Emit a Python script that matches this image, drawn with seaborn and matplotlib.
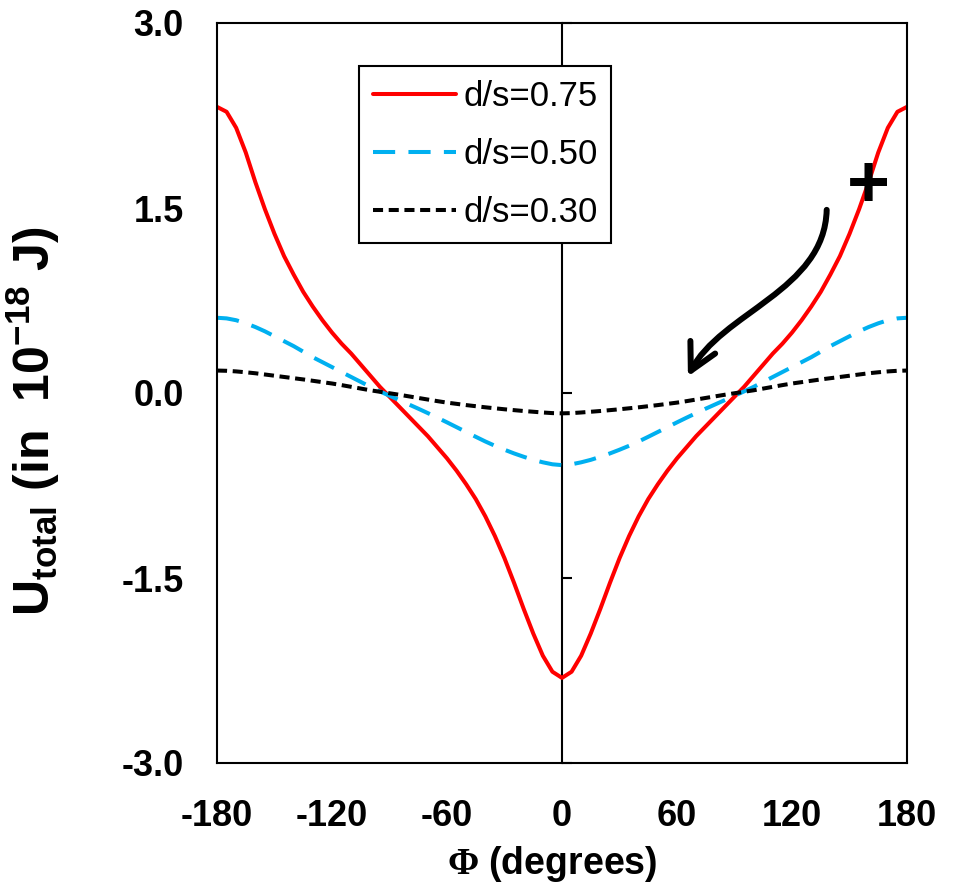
import numpy as np
import pandas as pd
import matplotlib
matplotlib.use("Agg")
import matplotlib.pyplot as plt
import seaborn as sns
from matplotlib.path import Path
from matplotlib.patches import FancyArrowPatch

# angle (degrees) and total energy (in 1e-18 J)
phi = [-180, -175, -170, -165, -160, -155, -150, -145, -140, -135, -130, -125,
       -120, -115, -110, -105, -100, -95, -90, -85, -80, -75, -70, -65, -60,
       -55, -50, -45, -40, -35, -30, -25, -20, -15, -10, -5, 0,
       5, 10, 15, 20, 25, 30, 35, 40, 45, 50, 55, 60, 65, 70, 75, 80, 85, 90,
       95, 100, 105, 110, 115, 120, 125, 130, 135, 140, 145, 150, 155, 160,
       165, 170, 175, 180]

u_075 = [2.32, 2.28, 2.15, 1.95, 1.71, 1.49, 1.29, 1.11, 0.96, 0.82, 0.70, 0.59,
         0.49, 0.40, 0.32, 0.23, 0.14, 0.05, -0.03, -0.11, -0.19, -0.27, -0.35,
         -0.44, -0.53, -0.63, -0.74, -0.86, -1.00, -1.16, -1.34, -1.54, -1.75,
         -1.95, -2.13, -2.26, -2.31,
         -2.26, -2.13, -1.95, -1.75, -1.54, -1.34, -1.16, -1.00, -0.86, -0.74,
         -0.63, -0.53, -0.44, -0.35, -0.27, -0.19, -0.11, -0.03, 0.05, 0.14,
         0.23, 0.32, 0.40, 0.49, 0.59, 0.70, 0.82, 0.96, 1.11, 1.29, 1.49, 1.71,
         1.95, 2.15, 2.28, 2.32]

u_050 = [0.61, 0.605, 0.59, 0.565, 0.535, 0.50, 0.46, 0.42, 0.38, 0.335, 0.29,
         0.25, 0.21, 0.17, 0.13, 0.09, 0.05, 0.013, -0.022, -0.057, -0.092,
         -0.127, -0.163, -0.20, -0.238, -0.277, -0.316, -0.355, -0.393, -0.428,
         -0.46, -0.49, -0.517, -0.542, -0.562, -0.578, -0.585,
         -0.578, -0.562, -0.542, -0.517, -0.49, -0.46, -0.428, -0.393, -0.355,
         -0.316, -0.277, -0.238, -0.20, -0.163, -0.127, -0.092, -0.057, -0.022,
         0.013, 0.05, 0.09, 0.13, 0.17, 0.21, 0.25, 0.29, 0.335, 0.38, 0.42,
         0.46, 0.50, 0.535, 0.565, 0.59, 0.605, 0.61]

u_030 = [0.182, 0.18, 0.175, 0.168, 0.16, 0.15, 0.14, 0.13, 0.12, 0.11, 0.099,
         0.088, 0.077, 0.064, 0.05, 0.036, 0.022, 0.01, -0.002, -0.014, -0.027,
         -0.04, -0.053, -0.066, -0.078, -0.088, -0.098, -0.107, -0.116, -0.124,
         -0.132, -0.139, -0.146, -0.152, -0.158, -0.163, -0.165,
         -0.163, -0.158, -0.152, -0.146, -0.139, -0.132, -0.124, -0.116, -0.107,
         -0.098, -0.088, -0.078, -0.066, -0.053, -0.04, -0.027, -0.014, -0.002,
         0.01, 0.022, 0.036, 0.05, 0.064, 0.077, 0.088, 0.099, 0.11, 0.12, 0.13,
         0.14, 0.15, 0.16, 0.168, 0.175, 0.18, 0.182]

labels = ["d/s=0.75", "d/s=0.50", "d/s=0.30"]
xticks = [-180, -120, -60, 0, 60, 120, 180]
yticks = [-3.0, -1.5, 0.0, 1.5, 3.0]

sns.set_theme(style="white", rc={"axes.edgecolor": "black", "xtick.color": "black",
                                 "ytick.color": "black", "text.color": "black",
                                 "axes.labelcolor": "black"})
plt.rcParams['font.family'] = ['Liberation Sans', 'DejaVu Sans']
plt.rcParams['font.weight'] = 'bold'
plt.rcParams['mathtext.fontset'] = 'custom'
plt.rcParams['mathtext.rm'] = 'Liberation Serif'
plt.rcParams['mathtext.bf'] = 'Liberation Sans:bold'
plt.rcParams['mathtext.it'] = 'Liberation Sans:italic'

df = pd.DataFrame({'phi': phi, labels[0]: u_075, labels[1]: u_050, labels[2]: u_030})

fig = plt.figure(figsize=(9.58, 8.83), dpi=100)
ax = fig.add_axes([217/958, 1-763/883, 690/958, 740/883])

lw = 2.9
sns.lineplot(data=df, x='phi', y=labels[0], ax=ax, color='#FF0000', lw=lw,
             label=labels[0])
sns.lineplot(data=df, x='phi', y=labels[1], ax=ax, color='#00B0F0', lw=lw,
             linestyle=(0, (5.5, 3.3)), label=labels[1])
sns.lineplot(data=df, x='phi', y=labels[2], ax=ax, color='black', lw=lw,
             linestyle=(0, (2.5, 1.4)), label=labels[2])

ax.set_xlim(-180, 180)
ax.set_ylim(-3, 3)
ax.set_xticks(xticks)
ax.set_xticklabels([str(t) for t in xticks])
ax.set_yticks(yticks)
ax.set_yticklabels([f"{t:.1f}" for t in yticks])
ax.tick_params(axis='x', direction='in', length=8, width=1.5, pad=26, labelsize=26)
ax.tick_params(axis='y', length=0, pad=24, labelsize=26)
for s in ax.spines.values():
    s.set_linewidth(1.5)
    s.set_color('black')

# vertical axis line through phi = 0 with its tick marks
sec = ax.secondary_yaxis(0.5)
sec.set_yticks(yticks)
sec.tick_params(axis='y', direction='out', length=7, width=1.5, labelright=False,
                labelleft=False)
for s in sec.spines.values():
    s.set_linewidth(1.5)
    s.set_color('black')

ax.set_xlabel(r'$\mathrm{\Phi}$ (degrees)', fontsize=27, fontweight='bold')
ax.xaxis.set_label_coords(0.486, -0.11)
ax.xaxis.label.set_va('top')
ax.set_ylabel(r'$\mathbf{U}_{\mathbf{total}}$ (in  10$^{\mathbf{-18}}$ J)', fontsize=36,
              fontweight='bold')
ax.yaxis.set_label_coords(-0.224, 0.462)

leg = ax.legend(loc='upper left', bbox_to_anchor=(359/958, 1-66/883),
                bbox_transform=fig.transFigure, borderaxespad=0, borderpad=0.4,
                handlelength=2.4, handletextpad=0.2, labelspacing=0.72,
                prop={'size': 25, 'weight': 'normal'}, fancybox=False,
                framealpha=1, edgecolor='black')
leg.get_frame().set_linewidth(1.5)
leg.set_zorder(10)

# curved arrow and "+" annotation
arrow_path = Path([(138.1, 1.485), (137.0, 0.828), (82.7, 0.654), (65.7, 0.134)],
                  [Path.MOVETO, Path.CURVE4, Path.CURVE4, Path.CURVE4])
ax.add_patch(FancyArrowPatch(path=arrow_path, arrowstyle='->,head_length=0.95,head_width=0.5',
                             mutation_scale=20, lw=4.3, color='black'))
ax.text(159.7, 1.51, '+', fontsize=53, fontweight='bold', ha='center', va='baseline')

fig.savefig('out.png', dpi=100)
